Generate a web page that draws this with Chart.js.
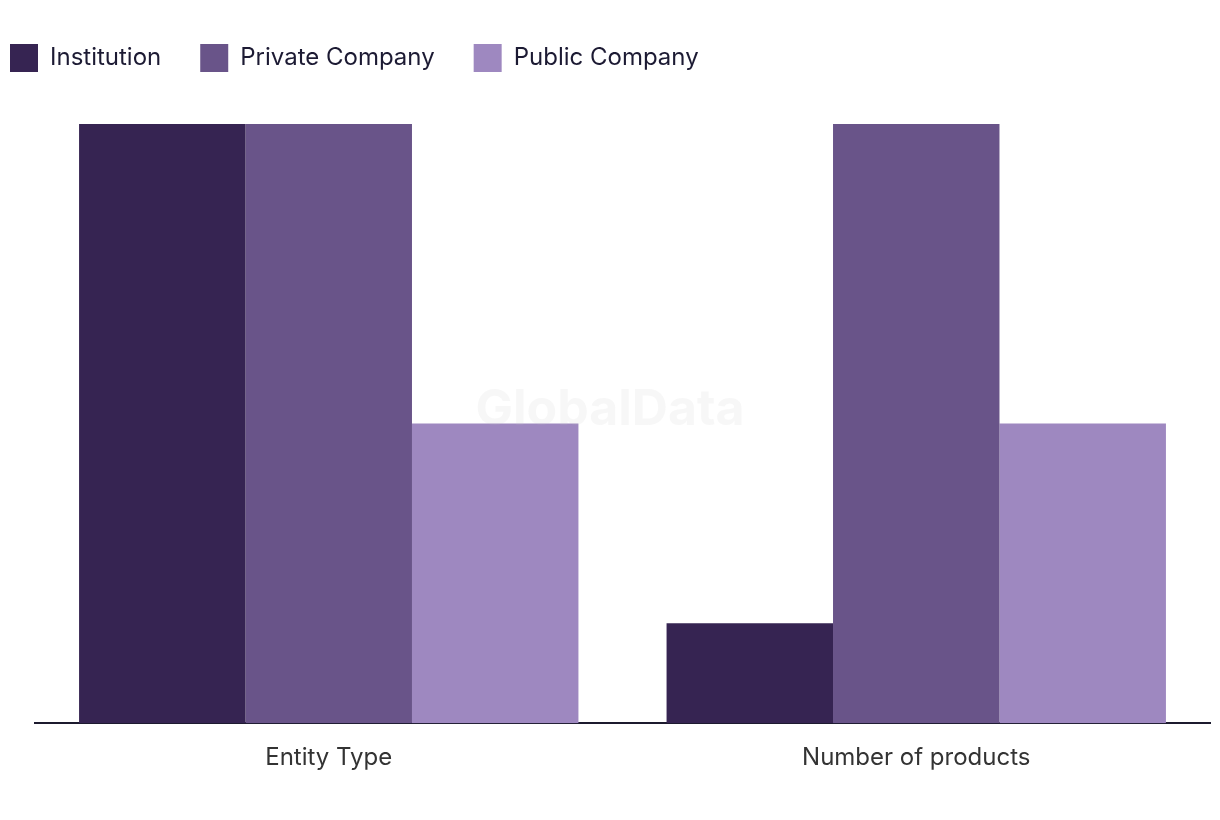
<!DOCTYPE html>
<html lang="en">
<head>
    <meta charset="UTF-8">
    <title>Entity Type / Number of products</title>
    <style>
        body { margin:0; background:#fff; }
        #wrap { width:1220px; height:820px; }
    </style>
    <script src="https://cdn.jsdelivr.net/npm/chart.js"></script>
</head>
<body>

<div id="wrap">
    <canvas id="barChart"></canvas>
</div>

<script>
const categories = ['Entity Type', 'Number of products'];
const institution = [6, 1];
const privateCompany = [6, 6];
const publicCompany = [3, 3];

const FONT = 'Inter, "Noto Sans", sans-serif';

// faint watermark in the middle
const watermark = {
  id: 'watermark',
  afterDatasetsDraw(chart) {
    const ctx = chart.ctx;
    ctx.save();
    ctx.font = 'bold 50px ' + FONT;
    ctx.fillStyle = 'rgba(190,190,190,0.13)';
    ctx.textAlign = 'center';
    ctx.textBaseline = 'middle';
    ctx.fillText('GlobalData', chart.width / 2, 410);
    ctx.restore();
  }
};

// push the plot down a bit below the legend
const legendGap = {
  id: 'legendGap',
  beforeInit(chart) {
    const origFit = chart.legend.fit;
    chart.legend.fit = function() {
      origFit.bind(chart.legend)();
      this.height += 42;
    };
  }
};

const config = {
  type: 'bar',
  data: {
    labels: categories,
    datasets: [{
      label: 'Institution',
      backgroundColor: '#362452',
      data: institution
    }, {
      label: 'Private Company',
      backgroundColor: '#695489',
      data: privateCompany
    }, {
      label: 'Public Company',
      backgroundColor: '#9e88c0',
      data: publicCompany
    }]
  },
  options: {
    responsive: true,
    maintainAspectRatio: false,
    animation: false,
    categoryPercentage: 0.85,
    barPercentage: 1.0,
    layout: {
      padding: { left: -29, right: 10, top: 5, bottom: 36 }
    },
    plugins: {
      legend: {
        position: 'top',
        align: 'start',
        labels: {
          boxWidth: 28,
          boxHeight: 28,
          padding: 39,
          color: '#1c1a33',
          font: { family: FONT, size: 24 }
        }
      },
      tooltip: { enabled: false }
    },
    scales: {
      x: {
        grid: { display: false },
        border: { color: '#1c1a2e', width: 2 },
        ticks: {
          color: '#333333',
          padding: 12,
          font: { family: FONT, size: 24 }
        }
      },
      y: {
        min: 0,
        max: 6,
        grid: { display: false },
        border: { display: false },
        ticks: { display: false },
        afterFit: function(scale) { scale.width = 64; }
      }
    }
  },
  plugins: [watermark, legendGap]
};

var barChart = new Chart(document.getElementById('barChart'), config);
</script>

</body>
</html>
